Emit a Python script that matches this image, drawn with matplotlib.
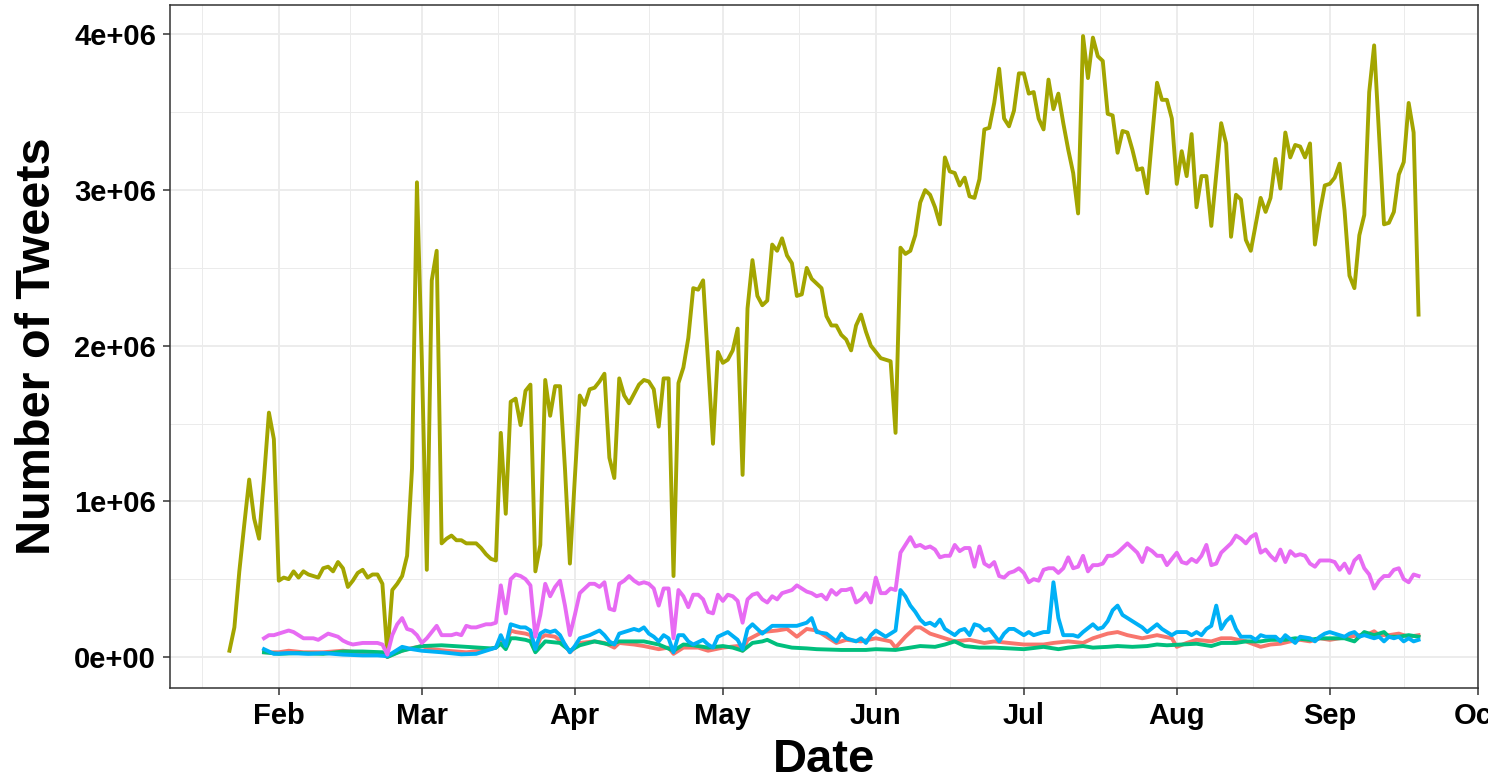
import matplotlib
matplotlib.use("Agg")
import matplotlib.pyplot as plt
import matplotlib.dates as mdates
from matplotlib.ticker import FuncFormatter
from matplotlib.transforms import Bbox
import numpy as np
import pandas as pd

plt.rcParams['font.family'] = ['Liberation Sans', 'DejaVu Sans']
plt.rcParams['font.weight'] = 'bold'

# daily tweet counts, millions
olive_start = "2020-01-22"
olive = [0.04, 0.19, 0.55, 0.85, 1.14, 0.89, 0.76, 1.15, 1.57, 1.40,
         # feb
         0.49, 0.51, 0.50, 0.55, 0.51, 0.55, 0.53, 0.52, 0.51, 0.57,
         0.58, 0.55, 0.61, 0.57, 0.45, 0.49, 0.54, 0.56, 0.51, 0.53,
         0.53, 0.47, 0.02, 0.43, 0.47, 0.52, 0.65, 1.21, 3.05,
         # mar
         1.90, 0.56, 2.42, 2.61, 0.73, 0.76, 0.78, 0.75, 0.75, 0.73,
         0.73, 0.73, 0.70, 0.66, 0.63, 0.62, 1.44, 0.92, 1.64, 1.66,
         1.49, 1.71, 1.75, 0.55, 0.72, 1.78, 1.55, 1.74, 1.74, 1.21, 0.60,
         # apr
         1.15, 1.68, 1.62, 1.72, 1.73, 1.77, 1.82, 1.28, 1.15, 1.79,
         1.68, 1.63, 1.69, 1.75, 1.78, 1.77, 1.72, 1.48, 1.79, 1.79,
         0.52, 1.76, 1.86, 2.05, 2.37, 2.36, 2.42, 1.90, 1.37, 1.96,
         # may
         1.89, 1.91, 1.97, 2.11, 1.17, 2.24, 2.55, 2.32, 2.26, 2.29,
         2.65, 2.61, 2.69, 2.58, 2.53, 2.32, 2.33, 2.50, 2.43, 2.40,
         2.37, 2.19, 2.13, 2.13, 2.07, 2.04, 1.97, 2.13, 2.20, 2.09, 2.00,
         # jun
         1.96, 1.92, 1.91, 1.90, 1.44, 2.63, 2.59, 2.61, 2.71, 2.92,
         3.00, 2.97, 2.89, 2.78, 3.21, 3.12, 3.11, 3.03, 3.08, 2.96,
         2.95, 3.07, 3.39, 3.40, 3.56, 3.78, 3.46, 3.41, 3.51, 3.75,
         # jul
         3.75, 3.62, 3.63, 3.46, 3.39, 3.71, 3.52, 3.62, 3.43, 3.26,
         3.11, 2.85, 3.99, 3.72, 3.98, 3.86, 3.83, 3.49, 3.48, 3.24,
         3.38, 3.37, 3.26, 3.13, 3.14, 2.98, 3.34, 3.69, 3.58, 3.58, 3.46,
         # aug
         3.04, 3.25, 3.09, 3.36, 2.89, 3.09, 3.09, 2.77, 3.10, 3.43,
         3.30, 2.70, 2.97, 2.94, 2.68, 2.61, 2.78, 2.95, 2.86, 2.95,
         3.20, 3.01, 3.37, 3.21, 3.29, 3.28, 3.21, 3.30, 2.65, 2.86, 3.03,
         # sep
         3.04, 3.08, 3.17, 2.87, 2.45, 2.37, 2.71, 2.84, 3.63, 3.93,
         3.35, 2.78, 2.79, 2.86, 3.10, 3.18, 3.56, 3.37, 2.20]

magenta_start = "2020-01-29"
magenta = [0.12, 0.14, 0.14,
           0.15, 0.16, 0.17, 0.16, 0.14, 0.12, 0.12, 0.12, 0.11, 0.13,
           0.15, 0.14, 0.13, 0.105, 0.09, 0.08, 0.085, 0.09, 0.09, 0.09,
           0.09, 0.08, 0.015, 0.14, 0.21, 0.25, 0.18, 0.17, 0.14,
           0.09, 0.12, 0.16, 0.20, 0.14, 0.14, 0.14, 0.15, 0.14, 0.20,
           0.19, 0.19, 0.20, 0.21, 0.21, 0.22, 0.46, 0.28, 0.50, 0.53,
           0.52, 0.50, 0.46, 0.13, 0.27, 0.47, 0.39, 0.45, 0.49, 0.33, 0.14,
           0.27, 0.41, 0.44, 0.47, 0.47, 0.45, 0.48, 0.31, 0.30, 0.47,
           0.49, 0.52, 0.49, 0.47, 0.48, 0.47, 0.44, 0.33, 0.44, 0.44,
           0.12, 0.43, 0.39, 0.32, 0.40, 0.40, 0.37, 0.29, 0.28, 0.40,
           0.36, 0.40, 0.39, 0.36, 0.22, 0.37, 0.40, 0.41, 0.37, 0.35,
           0.39, 0.37, 0.41, 0.42, 0.43, 0.46, 0.44, 0.42, 0.41, 0.39,
           0.40, 0.37, 0.43, 0.40, 0.43, 0.43, 0.44, 0.35, 0.37, 0.41, 0.35,
           0.51, 0.41, 0.41, 0.44, 0.43, 0.67, 0.72, 0.77, 0.71, 0.72,
           0.70, 0.71, 0.69, 0.64, 0.65, 0.65, 0.72, 0.68, 0.70, 0.70,
           0.58, 0.71, 0.60, 0.58, 0.61, 0.52, 0.51, 0.54, 0.55, 0.57,
           0.54, 0.48, 0.50, 0.49, 0.56, 0.57, 0.57, 0.54, 0.57, 0.64,
           0.57, 0.58, 0.65, 0.55, 0.59, 0.59, 0.60, 0.65, 0.65, 0.67,
           0.70, 0.73, 0.70, 0.67, 0.61, 0.70, 0.68, 0.65, 0.65, 0.59, 0.63,
           0.67, 0.61, 0.60, 0.63, 0.61, 0.65, 0.72, 0.59, 0.60, 0.67,
           0.70, 0.73, 0.78, 0.76, 0.73, 0.77, 0.79, 0.67, 0.69, 0.65,
           0.62, 0.69, 0.61, 0.68, 0.65, 0.66, 0.65, 0.60, 0.58, 0.62, 0.62,
           0.62, 0.61, 0.56, 0.60, 0.54, 0.62, 0.65, 0.57, 0.53, 0.44,
           0.49, 0.52, 0.52, 0.56, 0.57, 0.50, 0.48, 0.53, 0.52]

blue_days = ["01-29", "01-31", "02-03", "02-07", "02-10", "02-14", "02-18", "02-21", "02-23", "02-26",
             "02-28", "03-01", "03-05", "03-09", "03-12", "03-15", "03-16", "03-17", "03-18", "03-19",
             "03-20", "03-21", "03-22", "03-23", "03-24", "03-25", "03-26", "03-27", "03-28", "03-29",
             "03-30", "03-31", "04-01", "04-02", "04-04", "04-06", "04-07", "04-08", "04-09", "04-10",
             "04-12", "04-13", "04-14", "04-15", "04-16", "04-17", "04-18", "04-19", "04-20", "04-21",
             "04-22", "04-23", "04-24", "04-25", "04-27", "04-28", "04-29", "04-30", "05-02", "05-04",
             "05-05", "05-06", "05-07", "05-09", "05-11", "05-13", "05-16", "05-18", "05-19", "05-20",
             "05-22", "05-24", "05-25", "05-26", "05-28", "05-29", "05-30", "05-31", "06-01", "06-03",
             "06-05", "06-06", "06-07", "06-08", "06-09", "06-10", "06-11", "06-12", "06-13", "06-14",
             "06-15", "06-16", "06-17", "06-18", "06-19", "06-20", "06-21", "06-22", "06-23", "06-24",
             "06-25", "06-26", "06-27", "06-28", "06-29", "07-01", "07-02", "07-03", "07-05", "07-06",
             "07-07", "07-08", "07-09", "07-11", "07-12", "07-13", "07-15", "07-16", "07-17", "07-18",
             "07-19", "07-20", "07-21", "07-22", "07-23", "07-24", "07-25", "07-26", "07-28", "07-29",
             "07-31", "08-01", "08-03", "08-04", "08-05", "08-06", "08-07", "08-08", "08-09", "08-10",
             "08-11", "08-12", "08-13", "08-14", "08-16", "08-17", "08-18", "08-19", "08-21", "08-22",
             "08-23", "08-25", "08-26", "08-28", "08-29", "08-30", "08-31", "09-01", "09-02", "09-04",
             "09-05", "09-06", "09-07", "09-08", "09-10", "09-11", "09-12", "09-13", "09-14", "09-15",
             "09-16", "09-17", "09-18", "09-19"]
blue = [0.05, 0.02, 0.025, 0.02, 0.025, 0.015, 0.01, 0.01, 0.005, 0.065,
        0.05, 0.04, 0.03, 0.017, 0.02, 0.05, 0.06, 0.14, 0.07, 0.21,
        0.20, 0.19, 0.19, 0.17, 0.05, 0.15, 0.17, 0.16, 0.17, 0.14,
        0.08, 0.03, 0.07, 0.12, 0.14, 0.17, 0.14, 0.10, 0.08, 0.15,
        0.17, 0.18, 0.17, 0.19, 0.15, 0.13, 0.10, 0.14, 0.12, 0.03,
        0.14, 0.14, 0.10, 0.08, 0.11, 0.08, 0.06, 0.13, 0.16, 0.11,
        0.05, 0.18, 0.21, 0.15, 0.20, 0.20, 0.20, 0.22, 0.25, 0.16,
        0.15, 0.10, 0.15, 0.12, 0.10, 0.12, 0.09, 0.14, 0.17, 0.13,
        0.17, 0.43, 0.39, 0.33, 0.29, 0.24, 0.21, 0.22, 0.20, 0.24,
        0.18, 0.16, 0.14, 0.17, 0.18, 0.14, 0.21, 0.20, 0.17, 0.18,
        0.14, 0.10, 0.15, 0.18, 0.18, 0.14, 0.16, 0.14, 0.16, 0.16,
        0.48, 0.25, 0.14, 0.14, 0.13, 0.16, 0.21, 0.18, 0.19, 0.23,
        0.30, 0.33, 0.27, 0.25, 0.23, 0.21, 0.19, 0.16, 0.21, 0.18,
        0.14, 0.16, 0.16, 0.14, 0.16, 0.14, 0.18, 0.20, 0.33, 0.18,
        0.23, 0.26, 0.18, 0.13, 0.13, 0.11, 0.14, 0.13, 0.13, 0.10,
        0.14, 0.09, 0.13, 0.12, 0.10, 0.13, 0.15, 0.16, 0.15, 0.13,
        0.15, 0.16, 0.13, 0.14, 0.12, 0.13, 0.10, 0.13, 0.12, 0.13,
        0.10, 0.12, 0.10, 0.11]

red_days = ["01-29", "02-01", "02-03", "02-06", "02-10", "02-14", "02-17", "02-20", "02-22", "02-23",
            "02-25", "02-27", "03-01", "03-03", "03-06", "03-10", "03-13", "03-16", "03-17", "03-18",
            "03-19", "03-20", "03-22", "03-23", "03-24", "03-25", "03-26", "03-28", "03-30", "03-31",
            "04-02", "04-05", "04-07", "04-09", "04-10", "04-13", "04-15", "04-18", "04-20", "04-21",
            "04-23", "04-26", "04-28", "05-01", "05-04", "05-05", "05-06", "05-09", "05-12", "05-14",
            "05-16", "05-18", "05-20", "05-22", "05-24", "05-26", "05-29", "06-01", "06-04", "06-05",
            "06-07", "06-08", "06-09", "06-10", "06-12", "06-15", "06-17", "06-20", "06-23", "06-25",
            "06-28", "07-01", "07-05", "07-07", "07-10", "07-13", "07-15", "07-18", "07-20", "07-22",
            "07-25", "07-28", "07-31", "08-01", "08-03", "08-05", "08-08", "08-10", "08-12", "08-15",
            "08-18", "08-20", "08-22", "08-24", "08-26", "08-28", "08-30", "09-01", "09-03", "09-05",
            "09-07", "09-09", "09-10", "09-11", "09-13", "09-15", "09-17", "09-19"]
red = [0.03, 0.03, 0.04, 0.03, 0.03, 0.04, 0.03, 0.02, 0.02, 0.0,
       0.03, 0.05, 0.07, 0.05, 0.04, 0.03, 0.04, 0.06, 0.12, 0.08,
       0.17, 0.16, 0.15, 0.14, 0.04, 0.12, 0.14, 0.13, 0.08, 0.03,
       0.09, 0.10, 0.09, 0.06, 0.09, 0.08, 0.07, 0.05, 0.06, 0.02,
       0.06, 0.06, 0.04, 0.06, 0.07, 0.04, 0.11, 0.16, 0.17, 0.18,
       0.13, 0.18, 0.17, 0.13, 0.09, 0.11, 0.10, 0.12, 0.10, 0.06,
       0.13, 0.16, 0.19, 0.19, 0.15, 0.12, 0.10, 0.11, 0.09, 0.10,
       0.09, 0.08, 0.08, 0.09, 0.10, 0.09, 0.12, 0.15, 0.16, 0.14,
       0.12, 0.14, 0.12, 0.065, 0.09, 0.11, 0.10, 0.12, 0.12, 0.10,
       0.065, 0.08, 0.085, 0.10, 0.11, 0.10, 0.12, 0.11, 0.12, 0.13,
       0.14, 0.15, 0.165, 0.14, 0.14, 0.15, 0.13, 0.14]

green_days = ["01-29", "02-01", "02-05", "02-10", "02-14", "02-18", "02-22", "02-23", "02-26", "03-01",
              "03-05", "03-10", "03-15", "03-16", "03-17", "03-18", "03-19", "03-20", "03-22", "03-23",
              "03-24", "03-26", "03-29", "03-31", "04-02", "04-05", "04-08", "04-10", "04-15", "04-18",
              "04-21", "04-23", "04-25", "04-28", "05-01", "05-03", "05-05", "05-07", "05-09", "05-10",
              "05-12", "05-15", "05-18", "05-20", "05-25", "05-30", "06-01", "06-05", "06-08", "06-10",
              "06-13", "06-15", "06-17", "06-19", "06-22", "06-25", "06-28", "07-01", "07-05", "07-08",
              "07-10", "07-13", "07-15", "07-18", "07-20", "07-23", "07-26", "07-28", "07-30", "08-02",
              "08-05", "08-08", "08-10", "08-13", "08-15", "08-18", "08-20", "08-23", "08-25", "08-28",
              "08-30", "09-02", "09-04", "09-06", "09-08", "09-10", "09-12", "09-13", "09-15", "09-17",
              "09-19"]
green = [0.03, 0.02, 0.025, 0.02, 0.035, 0.035, 0.03, 0.0, 0.04, 0.07,
         0.075, 0.065, 0.055, 0.06, 0.085, 0.05, 0.12, 0.12, 0.11, 0.10,
         0.03, 0.10, 0.09, 0.04, 0.075, 0.10, 0.08, 0.10, 0.10, 0.08,
         0.04, 0.08, 0.075, 0.06, 0.07, 0.06, 0.04, 0.09, 0.10, 0.11,
         0.08, 0.06, 0.055, 0.05, 0.045, 0.045, 0.05, 0.045, 0.06, 0.07,
         0.065, 0.08, 0.10, 0.07, 0.06, 0.06, 0.055, 0.05, 0.065, 0.05,
         0.06, 0.07, 0.06, 0.065, 0.07, 0.065, 0.07, 0.08, 0.075, 0.08,
         0.085, 0.07, 0.09, 0.09, 0.10, 0.10, 0.11, 0.11, 0.12, 0.11,
         0.12, 0.12, 0.12, 0.10, 0.16, 0.14, 0.16, 0.13, 0.13, 0.14,
         0.13]

colors = {"red": "#F8766D", "olive": "#A3A500", "green": "#00BF7D",
          "blue": "#00B0F6", "magenta": "#E76BF3"}


def daily(start, vals):
    return pd.date_range(start, periods=len(vals), freq="D")


def sparse(days):
    return pd.to_datetime(["2020-" + d for d in days])


series = [
    (sparse(red_days), red, colors["red"]),
    (daily(olive_start, olive), olive, colors["olive"]),
    (sparse(green_days), green, colors["green"]),
    (sparse(blue_days), blue, colors["blue"]),
    (daily(magenta_start, magenta), magenta, colors["magenta"]),
]

fig = plt.figure(figsize=(15.08, 7.83), dpi=100)
ax = fig.add_axes([170 / 1508, 1 - 688 / 783, (1478 - 170) / 1508, (688 - 5) / 783])

for x, y, c in series:
    ax.plot(x, np.array(y) * 1e6, color=c, lw=2.8)

# ggplot style 5% expansion
x0 = pd.Timestamp(olive_start)
x1 = daily(olive_start, olive)[-1]
pad = (x1 - x0) * 0.05
ax.set_xlim(x0 - pad, x1 + pad)
ymax = max(olive) * 1e6
ax.set_ylim(-0.05 * ymax, ymax * 1.05)

major = pd.date_range("2020-02-01", "2020-10-01", freq="MS")
ax.set_xticks(major)
ax.xaxis.set_major_formatter(mdates.DateFormatter("%b"))
minor = [major[i] + (major[i + 1] - major[i]) / 2 for i in range(len(major) - 1)]
minor = [major[0] - pd.Timedelta(days=15.5)] + minor
ax.set_xticks(minor, minor=True)

ax.set_yticks(np.arange(0, 4.01e6, 1e6))
ax.set_yticks(np.arange(0.5e6, 4.01e6, 1e6), minor=True)
ax.yaxis.set_major_formatter(FuncFormatter(lambda v, p: "{:.0e}".format(v)))

ax.grid(True, which="major", color="#EBEBEB", lw=1.3)
ax.grid(True, which="minor", color="#EBEBEB", lw=0.7)
ax.set_axisbelow(True)
for s in ax.spines.values():
    s.set_color("#333333")
    s.set_linewidth(1.1)

ax.tick_params(which="major", length=5, width=1.1, color="#333333",
               labelsize=21, labelcolor="black", pad=5)
ax.tick_params(which="minor", length=0)

ax.set_xlabel("Date", fontsize=34, fontweight="bold", labelpad=6)
ax.set_ylabel("Number of Tweets", fontsize=35, fontweight="bold", labelpad=10)

# the Oct label is cut by the edge in the original
for lab in ax.get_xticklabels():
    if lab.get_text() == "Oct":
        lab.set_clip_on(True)
        lab.set_clip_box(Bbox.from_extents(0, 0, 1488, 783))

fig.savefig("out.png", dpi=100)
